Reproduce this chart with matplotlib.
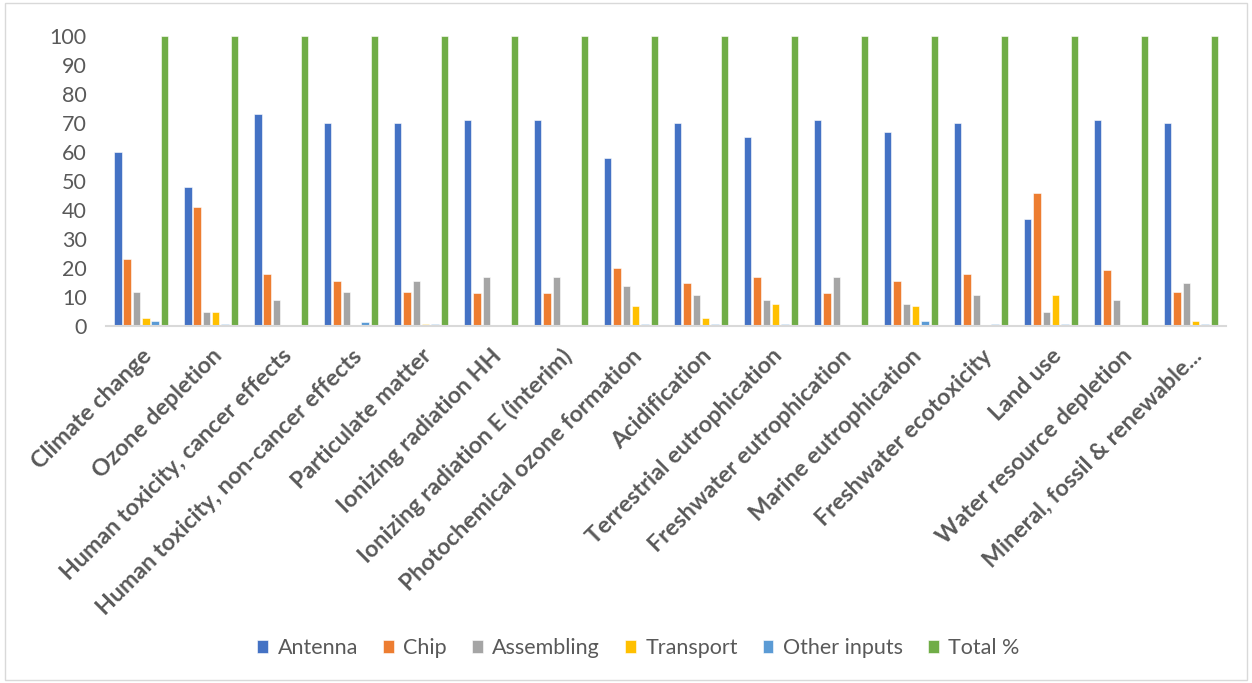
import numpy as np
import matplotlib.pyplot as plt
from matplotlib.patches import Rectangle

categories = ["Climate change", "Ozone depletion", "Human toxicity, cancer effects",
              "Human toxicity, non-cancer effects", "Particulate matter",
              "Ionizing radiation HH", "Ionizing radiation E (interim)",
              "Photochemical ozone formation", "Acidification",
              "Terrestrial eutrophication", "Freshwater eutrophication",
              "Marine eutrophication", "Freshwater ecotoxicity", "Land use",
              "Water resource depletion", "Mineral, fossil & renewable..."]

antenna = [60, 48, 73, 70, 70, 71, 71, 58, 70, 65, 71, 67, 70, 37, 71, 70]
chip = [23, 41, 18, 15.6, 11.6, 11.4, 11.4, 20, 14.7, 16.8, 11.4, 15.6, 18, 46, 19.4, 11.7]
assembling = [11.6, 4.8, 8.8, 11.6, 15.6, 16.8, 16.8, 13.7, 10.8, 8.8, 16.8, 7.7, 10.8, 4.8, 8.8, 14.8]
transport = [2.6, 4.8, 0, 0.3, 0.7, 0, 0, 6.9, 2.6, 7.7, 0, 6.9, 0, 10.7, 0, 1.7]
other_inputs = [1.7, 0.7, 0, 1.4, 0.7, 0, 0, 0.7, 0.7, 0.7, 0, 1.7, 0.7, 0.7, 0, 0.7]
total = [100] * 16

series = [("Antenna", antenna, "#4472C4"),
          ("Chip", chip, "#ED7D31"),
          ("Assembling", assembling, "#A5A5A5"),
          ("Transport", transport, "#FFC000"),
          ("Other inputs", other_inputs, "#5B9BD5"),
          ("Total %", total, "#70AD47")]

plt.rcParams['font.family'] = ['Lato', 'DejaVu Sans']
txt = "#595959"

fig = plt.figure(figsize=(12.52, 6.83), dpi=100)
ax = fig.add_axes([0.0847, 0.5227, 0.8945, 0.4246])

x = np.arange(len(categories))
step = 0.1333
width = 0.107
for i, (name, vals, col) in enumerate(series):
    ax.bar(x - 0.5 + 0.114 + i * step, vals, width=width, align='edge',
           color=col, label=name, edgecolor='white', linewidth=0.4)

ax.set_xlim(-0.5, len(categories) - 0.5)
ax.set_ylim(0, 100)
ax.set_yticks(range(0, 101, 10))
ax.tick_params(axis='y', length=0, pad=14, labelsize=15.5, labelcolor=txt)
ax.tick_params(axis='x', length=0, pad=14)
ax.set_xticks(x)
ax.set_xticklabels(categories, rotation=45, ha='right', va='top',
                   rotation_mode='anchor', fontsize=16.8, fontweight='bold', color=txt)
for s in ['top', 'right', 'left']:
    ax.spines[s].set_visible(False)
ax.spines['bottom'].set_color('#D9D9D9')
ax.spines['bottom'].set_linewidth(1.5)

ax.legend(loc='center', bbox_to_anchor=(0.51, 0.051), bbox_transform=fig.transFigure,
          ncol=6, frameon=False, fontsize=15.5, labelcolor=txt,
          handlelength=0.5, handleheight=0.5, handletextpad=0.45, columnspacing=1.15)

fig.patches.append(Rectangle((0.004, 0.004), 0.992, 0.992, transform=fig.transFigure,
                             fill=False, edgecolor='#D9D9D9', linewidth=1))

fig.savefig("out.png", dpi=100)
